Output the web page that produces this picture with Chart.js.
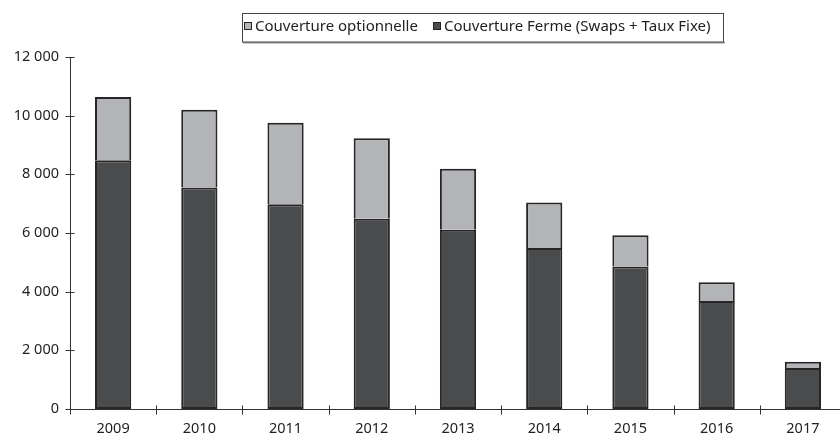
<!DOCTYPE html>
<html>
<head>
<meta charset="utf-8">
<script src="https://cdn.jsdelivr.net/npm/chart.js@4.4.0/dist/chart.umd.min.js"></script>
<style>
html,body{margin:0;padding:0;background:#fff;overflow:hidden;width:840px;height:437px;}
#wrap{width:840px;height:437px;overflow:hidden;}
canvas{display:block;}
</style>
</head>
<body>
<div id="wrap"><canvas id="c" width="846" height="437"></canvas></div>
<script>
const categories = ['2009','2010','2011','2012','2013','2014','2015','2016','2017'];
const ferme = [8480, 7550, 6980, 6490, 6110, 5490, 4860, 3680, 1400];
const optionnelle = [2160, 2650, 2780, 2740, 2080, 1550, 1060, 640, 210];
const yTicks = [0, 2000, 4000, 6000, 8000, 10000, 12000];
const seriesNames = ['Couverture Ferme (Swaps + Taux Fixe)', 'Couverture optionnelle'];

const FONT = '"Noto Sans", sans-serif';
const AXIS = '#333333';

function fmt(v){ return String(v).replace(/\B(?=(\d{3})+(?!\d))/g, ' '); }

const axesPlugin = {
  id: 'axesPlugin',
  afterDatasetsDraw(chart){
    const ctx = chart.ctx, a = chart.chartArea;
    const x = chart.scales.x, y = chart.scales.y;
    ctx.save();
    ctx.strokeStyle = AXIS; ctx.lineWidth = 1;
    ctx.beginPath();
    const lx = Math.round(a.left) + 0.5, by = Math.round(a.bottom) + 0.5;
    ctx.moveTo(lx, Math.round(y.getPixelForValue(12000))); ctx.lineTo(lx, by);
    ctx.moveTo(lx, by); ctx.lineTo(a.right, by);
    yTicks.forEach(v => {
      const py = Math.round(y.getPixelForValue(v)) + 0.5;
      ctx.moveTo(lx - 5, py); ctx.lineTo(lx + 4, py);
    });
    const n = categories.length;
    for (let i = 0; i <= n; i++) {
      let px;
      if (i === 0) px = x.getPixelForValue(0) - (x.getPixelForValue(1) - x.getPixelForValue(0)) / 2;
      else if (i === n) px = x.getPixelForValue(n-1) + (x.getPixelForValue(n-1) - x.getPixelForValue(n-2)) / 2;
      else px = (x.getPixelForValue(i-1) + x.getPixelForValue(i)) / 2;
      px = Math.round(px) + 0.5;
      ctx.moveTo(px, by - 4); ctx.lineTo(px, by + 5);
    }
    ctx.stroke();
    ctx.restore();
  }
};

const legendPlugin = {
  id: 'boxLegend',
  afterDraw(chart){
    const ctx = chart.ctx;
    ctx.save();
    ctx.fillStyle = '#9a9a9a';
    ctx.fillRect(243, 42, 482, 1.5);
    ctx.fillStyle = '#fff';
    ctx.fillRect(242.5, 13.5, 481, 28.5);
    ctx.strokeStyle = '#444'; ctx.lineWidth = 1;
    ctx.strokeRect(242.5, 13.5, 481, 28.5);
    ctx.font = '15px ' + FONT;
    ctx.textBaseline = 'middle';
    const ds = chart.data.datasets.slice().reverse();
    const starts = [244, 433];
    ds.forEach((d, i) => {
      const mx = starts[i];
      ctx.fillStyle = d.backgroundColor;
      ctx.fillRect(mx + 0.5, 22.5, 7, 7);
      ctx.strokeStyle = '#222'; ctx.lineWidth = 1;
      ctx.strokeRect(mx + 0.5, 22.5, 7, 7);
      ctx.fillStyle = '#222';
      ctx.fillText(d.label, mx + 11, 27);
    });
    ctx.restore();
  }
};

new Chart(document.getElementById('c'), {
  type: 'bar',
  data: {
    labels: categories,
    datasets: [
      { label: seriesNames[0], data: ferme, backgroundColor: '#4a4b4d', borderColor: '#262626', borderWidth: 2, borderSkipped: false },
      { label: seriesNames[1], data: optionnelle, backgroundColor: '#b3b4b7', borderColor: '#262626', borderWidth: { top: 2, left: 2, right: 2, bottom: 0 }, borderSkipped: false }
    ]
  },
  options: {
    responsive: false,
    animation: false,
    devicePixelRatio: 1,
    layout: { padding: { top: 57, left: 0, right: 0, bottom: 0 } },
    datasets: { bar: { categoryPercentage: 1, barPercentage: 0.42 } },
    plugins: { legend: { display: false }, tooltip: { enabled: false } },
    scales: {
      x: {
        stacked: true,
        grid: { display: false, drawTicks: false },
        border: { display: false },
        ticks: { color: '#222', font: { family: FONT, size: 14.5 }, padding: 11, maxRotation: 0 },
        afterFit(s){ s.height = 28; }
      },
      y: {
        stacked: true,
        min: 0, max: 12000,
        afterBuildTicks(s){ s.ticks = yTicks.map(v => ({ value: v })); },
        grid: { display: false, drawTicks: false },
        border: { display: false },
        ticks: { color: '#222', font: { family: FONT, size: 14.5 }, padding: 11, callback: v => fmt(v) },
        afterFit(s){ s.width = 70; }
      }
    }
  },
  plugins: [axesPlugin, legendPlugin]
});
</script>
</body>
</html>
